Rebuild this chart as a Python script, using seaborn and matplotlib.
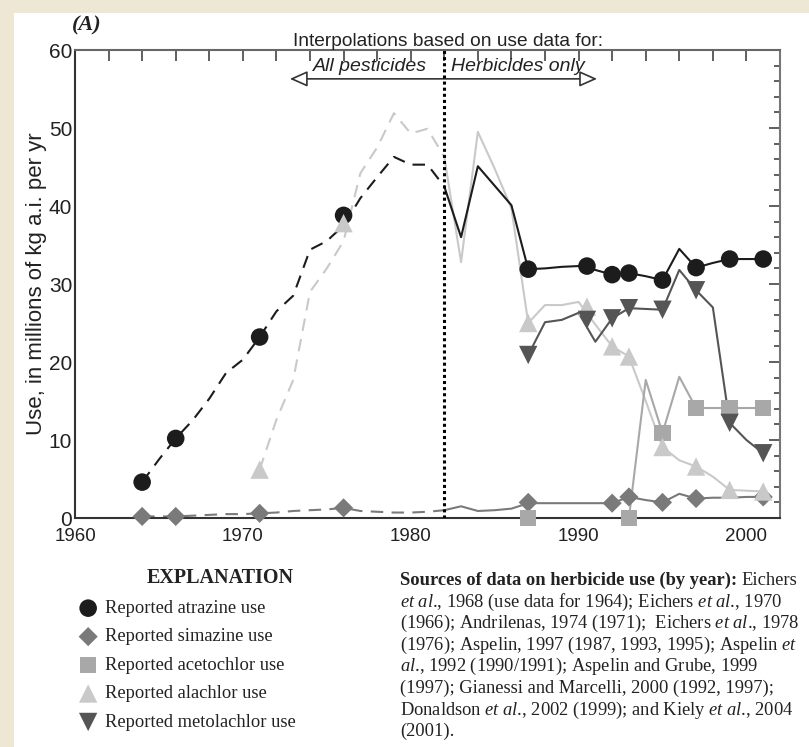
import matplotlib
matplotlib.use("Agg")
import matplotlib.pyplot as plt
from matplotlib import font_manager
from matplotlib.patches import Rectangle
import seaborn as sns

# interpolated annual estimates, 1964-1982 (all pesticides)
years_interp = list(range(1964, 1983))
atrazine_interp = [4.6, 7.5, 10.2, 12.5, 15.3, 18.6, 20.3, 23.2, 26.5, 28.5, 34.4,
                   35.5, 37.5, 41.0, 43.7, 46.3, 45.3, 45.3, 42.5]
simazine_interp = [0.2, 0.2, 0.2, 0.3, 0.4, 0.5, 0.5, 0.6, 0.7, 0.9, 1.0,
                   1.1, 1.3, 0.9, 0.8, 0.7, 0.7, 0.8, 1.0]
years_alachlor_interp = list(range(1971, 1983))
alachlor_interp = [6.2, 12.6, 17.7, 29.0, 32.0, 35.5, 44.2, 47.5, 51.9, 49.3, 49.9, 46.3]

# interpolated annual estimates, 1982-2001 (herbicides only)
years_herb = list(range(1982, 2002))
atrazine_herb = [42.5, 36.0, 45.1, 42.6, 40.1, 31.9, 32.0, 32.2, 32.3, 31.8,
                 31.2, 31.4, 31.0, 30.5, 34.5, 32.1, 32.7, 33.2, 33.2, 33.2]
simazine_herb = [1.0, 1.5, 0.9, 1.0, 1.2, 1.9, 1.9, 1.9, 1.9, 1.9,
                 1.9, 2.7, 2.3, 2.0, 3.1, 2.5, 2.6, 2.6, 2.7, 2.7]
alachlor_herb = [46.3, 32.8, 49.5, 44.8, 39.7, 25.0, 27.3, 27.3, 27.7, 24.8,
                 22.0, 20.7, 15.0, 9.1, 7.4, 6.6, 5.3, 3.6, 3.5, 3.4]
years_metolachlor = list(range(1987, 2002))
metolachlor_herb = [20.9, 25.1, 25.4, 26.3, 22.6, 25.6, 26.9, 26.8, 26.7, 31.8,
                    29.2, 27.0, 12.2, 10.0, 8.3]
years_acetochlor = list(range(1993, 2002))
acetochlor_herb = [0.0, 17.7, 10.9, 18.1, 14.1, 14.1, 14.1, 14.1, 14.1]

# reported use
atrazine_rep_years = [1964, 1966, 1971, 1976, 1987, 1990.5, 1992, 1993, 1995, 1997, 1999, 2001]
atrazine_rep = [4.6, 10.2, 23.2, 38.8, 31.9, 32.3, 31.2, 31.4, 30.5, 32.1, 33.2, 33.2]
simazine_rep_years = [1964, 1966, 1971, 1976, 1987, 1992, 1993, 1995, 1997, 2001]
simazine_rep = [0.2, 0.2, 0.6, 1.3, 2.0, 1.9, 2.7, 2.0, 2.5, 2.7]
acetochlor_rep_years = [1987, 1993, 1995, 1997, 1999, 2001]
acetochlor_rep = [0.0, 0.0, 10.9, 14.1, 14.1, 14.1]
alachlor_rep_years = [1971, 1976, 1987, 1990.5, 1992, 1993, 1995, 1997, 1999, 2001]
alachlor_rep = [6.2, 37.8, 25.0, 27.1, 22.0, 20.7, 9.1, 6.6, 3.6, 3.4]
metolachlor_rep_years = [1987, 1990.5, 1992, 1993, 1995, 1997, 1999, 2001]
metolachlor_rep = [20.9, 25.4, 25.6, 26.9, 26.7, 29.2, 12.2, 8.3]

c_atr = "#1c1c1c"
c_sim = "#7a7a7a"
c_ace = "#a8a8a8"
c_ala = "#c9c9c9"
c_met = "#555555"

sns.set_theme(style="white")
names = {f.name for f in font_manager.fontManager.ttflist}
narrow = "Liberation Sans Narrow" if "Liberation Sans Narrow" in names else "Liberation Sans"
plt.rcParams["font.family"] = ["Liberation Sans", "DejaVu Sans"]
plt.rcParams["mathtext.fontset"] = "custom"
plt.rcParams["mathtext.rm"] = "Liberation Serif"
plt.rcParams["mathtext.it"] = "Liberation Serif:italic"
plt.rcParams["mathtext.bf"] = "Liberation Serif:bold"

W, H = 809, 747
fig = plt.figure(figsize=(W / 100, H / 100), dpi=100, facecolor="#eee7d4")
fig.patches.append(Rectangle((14 / W, 0), 1, 1 - 13 / H, transform=fig.transFigure,
                             facecolor="white", edgecolor="none", zorder=-5))


def px(x, y):
    return x / W, 1 - y / H


ax = fig.add_axes([75 / W, 1 - 518 / H, 705 / W, 468 / H])
ax.set_zorder(1)
ax.set_facecolor("white")

dash = (0, (6, 4))
sns.lineplot(x=years_interp, y=atrazine_interp, ax=ax, color=c_atr, linestyle=dash, lw=1.5, legend=False, zorder=2)
sns.lineplot(x=years_interp, y=simazine_interp, ax=ax, color=c_sim, linestyle=dash, lw=1.5, legend=False, zorder=2)
sns.lineplot(x=years_alachlor_interp, y=alachlor_interp, ax=ax, color=c_ala, linestyle=dash, lw=1.5, legend=False, zorder=2)

sns.lineplot(x=years_herb, y=alachlor_herb, ax=ax, color=c_ala, lw=1.5, legend=False, zorder=2)
sns.lineplot(x=years_acetochlor, y=acetochlor_herb, ax=ax, color=c_ace, lw=1.5, legend=False, zorder=2)
sns.lineplot(x=years_herb, y=simazine_herb, ax=ax, color=c_sim, lw=1.5, legend=False, zorder=2)
sns.lineplot(x=years_metolachlor, y=metolachlor_herb, ax=ax, color=c_met, lw=1.5, legend=False, zorder=2)
sns.lineplot(x=years_herb, y=atrazine_herb, ax=ax, color=c_atr, lw=1.5, legend=False, zorder=2)

sns.scatterplot(x=atrazine_rep_years, y=atrazine_rep, ax=ax, marker="o", s=160, color=c_atr,
                edgecolor="none", legend=False, zorder=3, clip_on=False, label="Reported atrazine use")
sns.scatterplot(x=simazine_rep_years, y=simazine_rep, ax=ax, marker="D", s=95, color=c_sim,
                edgecolor="none", legend=False, zorder=3, clip_on=False, label="Reported simazine use")
sns.scatterplot(x=acetochlor_rep_years, y=acetochlor_rep, ax=ax, marker="s", s=140, color=c_ace,
                edgecolor="none", legend=False, zorder=3, clip_on=False, label="Reported acetochlor use")
sns.scatterplot(x=alachlor_rep_years, y=alachlor_rep, ax=ax, marker="^", s=175, color=c_ala,
                edgecolor="none", legend=False, zorder=3, clip_on=False, label="Reported alachlor use")
sns.scatterplot(x=metolachlor_rep_years, y=metolachlor_rep, ax=ax, marker="v", s=175, color=c_met,
                edgecolor="none", legend=False, zorder=3, clip_on=False, label="Reported metolachlor use")

ax.axvline(1982, color="black", lw=2.2, linestyle=(0, (1, 1)), zorder=4)

ax.set_xlim(1960, 2002)
ax.set_ylim(0, 60)
ax.set_xticks(range(1960, 2002, 2))
ax.set_xticklabels([str(y) if y % 10 == 0 else "" for y in range(1960, 2002, 2)],
                   fontfamily=narrow, fontsize=13.5)
ax.set_yticks(range(0, 61, 10))
ax.set_yticks(range(0, 61, 2), minor=True)
ax.tick_params(axis="y", labelsize=15, pad=2)
ax.tick_params(axis="x", pad=7)
ax.tick_params(which="both", direction="in", top=True, right=True, colors="#444444",
               labelcolor="#222222", width=1.2)
ax.tick_params(which="major", length=8)
ax.tick_params(which="minor", length=4)
for side, col in [("left", "#333333"), ("bottom", "#333333"), ("top", "#666666"), ("right", "#777777")]:
    ax.spines[side].set_color(col)
    ax.spines[side].set_linewidth(1.5)

ax.set_xlabel("")
ax.set_ylabel("Use, in millions of kg a.i. per yr", fontsize=16, color="#222222")
ax.yaxis.set_label_coords(-0.04, 0.5)

# interpolation annotation
ax.annotate("", xy=(1972.8, 56.3), xytext=(1991.1, 56.3),
            arrowprops=dict(arrowstyle="<|-|>,head_length=0.9,head_width=0.4",
                            fc="white", ec="#333333", lw=1.2, shrinkA=0, shrinkB=0))
ax.text(1977.6, 56.8, "All pesticides", style="italic", fontsize=14, ha="center", va="bottom", color="#222222")
ax.text(1986.4, 56.8, "Herbicides only", style="italic", fontsize=14, ha="center", va="bottom", color="#222222")
fig.text(*px(448, 41), "Interpolations based on use data for:", fontsize=13.8, ha="center",
         va="center", color="#222222")
fig.text(*px(72, 25), "(A)", fontfamily="Liberation Serif", fontsize=16, fontweight="bold",
         style="italic", ha="left", va="center", color="#222222")

# explanation
handles, labels = ax.get_legend_handles_labels()
fig.text(*px(220, 578), "EXPLANATION", fontfamily="Liberation Serif", fontsize=14.5,
         fontweight="bold", ha="center", va="center", color="#222222")
fig.legend(handles, labels, loc="upper left", bbox_to_anchor=px(78, 600), frameon=False,
           prop={"family": "Liberation Serif", "size": 13.3}, handletextpad=0.35,
           labelspacing=0.62, handlelength=1.1, borderaxespad=0, borderpad=0,
           labelcolor="#222222")

# sources
serif = {"fontfamily": "Liberation Serif", "fontsize": 13.3, "color": "#222222", "va": "baseline"}
t0 = fig.text(*px(400, 585), "Sources of data on herbicide use (by year):", fontweight="bold", **serif)
bb = t0.get_window_extent(fig.canvas.get_renderer())
fig.text(bb.x1 / W + 4 / W, 1 - 585 / H, "Eichers", **serif)
source_lines = [
    r"$\mathit{et\ al}$., 1968 (use data for 1964); Eichers $\mathit{et\ al}$., 1970",
    r"(1966); Andrilenas, 1974 (1971);  Eichers $\mathit{et\ al}$., 1978",
    r"(1976); Aspelin, 1997 (1987, 1993, 1995); Aspelin $\mathit{et}$",
    r"$\mathit{al}$., 1992 (1990/1991); Aspelin and Grube, 1999",
    r"(1997); Gianessi and Marcelli, 2000 (1992, 1997);",
    r"Donaldson $\mathit{et\ al}$., 2002 (1999); and Kiely $\mathit{et\ al}$., 2004",
    r"(2001).",
]
for i, line in enumerate(source_lines):
    fig.text(*px(400, 585 + 21.6 * (i + 1)), line, **serif)

plt.savefig("out.png", dpi=100, facecolor=fig.get_facecolor())
